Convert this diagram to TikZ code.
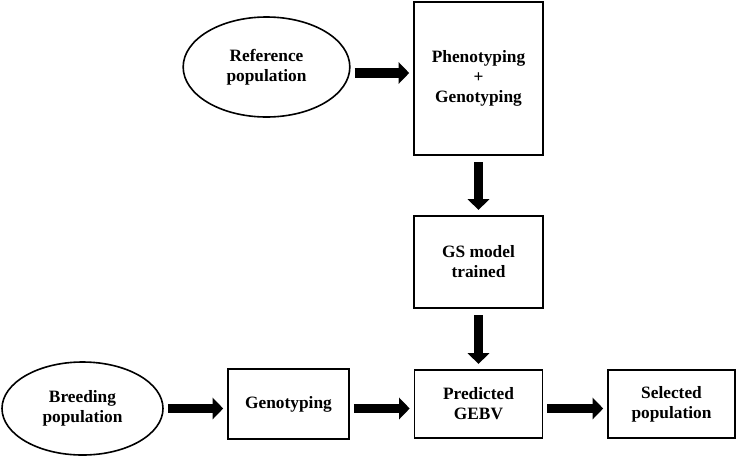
\documentclass[tikz,border=0pt]{standalone}
\usepackage{fontspec}
\setmainfont{Liberation Serif}
\usetikzlibrary{shapes.geometric,arrows.meta}

\begin{document}
\begin{tikzpicture}[x=0.75pt,y=-0.75pt,
        box/.style={draw,line width=1.2pt,rectangle,align=center,inner sep=0pt,
            font=\fontsize{13}{15}\selectfont\bfseries},
        pop/.style={draw,line width=1.2pt,ellipse,align=center,inner sep=0pt,
            font=\fontsize{13}{15}\selectfont\bfseries},
        fat/.style={line width=7pt,-{Triangle[length=8pt,width=16pt]},
            shorten <=3pt,shorten >=3pt}
    ]
    \useasboundingbox (0,0) rectangle (738,457);
    % training side
    \node[pop,minimum width=125pt,minimum height=75pt] (refpop) at (266.5,67)
        {Reference\\population};
    \node[box,minimum width=96.75pt,minimum height=114.75pt] (phengen) at (478.5,78.5)
        {Phenotyping\\+\\Genotyping};
    \node[box,minimum width=96.75pt,minimum height=69pt] (gsmodel) at (478.5,262)
        {GS model\\trained};
    % prediction side
    \node[pop,minimum width=120.75pt,minimum height=69.75pt] (breedpop) at (82.5,408.5)
        {Breeding\\population};
    \node[box,minimum width=90.75pt,minimum height=52.5pt] (genotyp) at (288.5,404)
        {Genotyping};
    \node[box,minimum width=96pt,minimum height=51pt] (gebv) at (478.5,404)
        {Predicted\\GEBV};
    \node[box,minimum width=95.25pt,minimum height=51pt] (selpop) at (671.5,404)
        {Selected\\population};

    \draw[fat] ([yshift=-4.5pt]refpop.east) -- ([yshift=-4.5pt]refpop.east -| phengen.west);
    \draw[fat,shorten <=5pt,shorten >=4pt] (phengen.south) -- (gsmodel.north);
    \draw[fat,shorten <=5pt,shorten >=4pt] (gsmodel.south) -- (gebv.north);
    \draw[fat] (breedpop.east) -- (breedpop.east -| genotyp.west);
    \draw[fat] (genotyp.east |- breedpop.east) -- (gebv.west |- breedpop.east);
    \draw[fat] (gebv.east |- breedpop.east) -- (selpop.west |- breedpop.east);
\end{tikzpicture}
\end{document}
